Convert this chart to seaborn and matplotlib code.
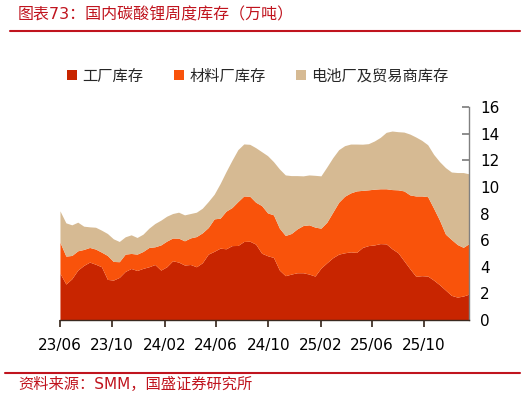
import numpy as np
import pandas as pd
import matplotlib
matplotlib.use('Agg')
import matplotlib.pyplot as plt
import matplotlib.dates as mdates
from matplotlib.lines import Line2D
import seaborn as sns

# weekly inventory (10k tonnes), roughly every 2 weeks
factory = [3.51, 2.70, 3.10, 3.75, 4.10, 4.35, 4.19, 4.00, 3.05, 3.00,
           3.20, 3.65, 3.87, 3.72, 3.88, 4.00, 4.17, 3.75, 4.00, 4.45,
           4.35, 4.13, 4.17, 4.00, 4.30, 4.95, 5.16, 5.40, 5.35, 5.59,
           5.60, 5.90, 5.92, 5.70, 5.02, 4.83, 4.70, 3.75, 3.33, 3.45,
           3.55, 3.55, 3.45, 3.30, 3.90, 4.30, 4.68, 4.95, 5.05, 5.12,
           5.08, 5.45, 5.59, 5.64, 5.74, 5.72, 5.35, 5.05, 4.45, 3.85,
           3.28, 3.33, 3.30, 3.00, 2.65, 2.25, 1.85, 1.72, 1.80, 1.95]
material = [2.33, 2.10, 1.75, 1.45, 1.20, 1.10, 1.14, 1.10, 1.80, 1.40,
            1.18, 1.30, 1.13, 1.23, 1.27, 1.45, 1.33, 1.89, 1.93, 1.71,
            1.80, 1.82, 2.00, 2.27, 2.25, 2.00, 2.44, 2.25, 2.83, 2.86,
            3.30, 3.42, 3.38, 3.15, 3.58, 3.22, 3.20, 3.15, 3.02, 3.05,
            3.30, 3.55, 3.70, 3.68, 3.00, 3.05, 3.42, 3.90, 4.25, 4.43,
            4.62, 4.29, 4.19, 4.19, 4.12, 4.14, 4.45, 4.73, 5.25, 5.55,
            6.04, 5.99, 5.97, 5.40, 4.85, 4.20, 4.20, 3.95, 3.66, 3.80]
battery = [2.36, 2.50, 2.30, 2.15, 1.75, 1.55, 1.64, 1.65, 1.65, 1.70,
           1.52, 1.30, 1.40, 1.25, 1.30, 1.45, 1.75, 1.86, 1.87, 1.84,
           1.95, 1.95, 1.83, 1.83, 1.85, 1.95, 1.85, 2.60, 2.97, 3.55,
           3.90, 3.91, 3.90, 4.10, 4.05, 4.30, 4.00, 4.45, 4.55, 4.35,
           4.00, 3.73, 3.75, 3.89, 3.93, 4.15, 4.10, 3.95, 3.80, 3.67,
           3.52, 3.47, 3.47, 3.62, 3.86, 4.24, 4.40, 4.37, 4.42, 4.57,
           4.43, 4.18, 3.90, 4.05, 4.40, 5.00, 5.07, 5.41, 5.62, 5.23]

labels = ['工厂库存', '材料厂库存', '电池厂及贸易商库存']
colors = ['#C82500', '#F9530B', '#D6BA93']
y_ticks = [0, 2, 4, 6, 8, 10, 12, 14, 16]

weeks = pd.date_range('2023-06-01', '2026-01-15', periods=len(factory))

sns.set_theme(style='white')
plt.rcParams['font.family'] = ['DejaVu Sans', 'Noto Sans CJK SC']

fig = plt.figure(figsize=(5.26, 3.98), dpi=100)
ax = fig.add_axes([0.114, 0.196, 0.778, 0.535])

ax.stackplot(weeks, factory, material, battery, colors=colors,
             labels=labels, linewidth=0)

ax.set_xlim(weeks[0], weeks[-1])
ax.set_ylim(0, 16)
ax.set_yticks(y_ticks)
ax.yaxis.tick_right()
ax.xaxis.set_major_locator(mdates.MonthLocator(bymonth=[2, 6, 10]))
ax.xaxis.set_major_formatter(mdates.DateFormatter('%y/%m'))

sns.despine(ax=ax, left=True, top=True, right=False, bottom=False)
ax.spines['right'].set_color('#808080')
ax.spines['bottom'].set_color('#3a2a20')
ax.spines['right'].set_linewidth(1)
ax.spines['bottom'].set_linewidth(1)
ax.tick_params(axis='y', direction='in', length=5, color='#808080',
               labelsize=11, pad=8, labelcolor='black', right=True, left=False)
ax.tick_params(axis='x', direction='out', length=5, color='#3a2a20',
               labelsize=11, pad=8, labelcolor='black', bottom=True)
ax.grid(False)

fig.legend(loc='center', bbox_to_anchor=(0.49, 0.809), ncol=3, frameon=False,
           fontsize=11, handlelength=0.65, handleheight=0.65,
           handletextpad=0.35, columnspacing=2.0)

# title, rules and source
fig.text(0.034, 0.963, '图表73：国内碳酸锂周度库存（万吨）', color='#C0141E',
         fontsize=11.5, va='center', ha='left')
fig.add_artist(Line2D([0.019, 0.989], [0.922, 0.922], color='#C0141E', lw=1.5))
fig.add_artist(Line2D([0.01, 0.989], [0.063, 0.063], color='#C0141E', lw=1.5))
fig.text(0.034, 0.035, '资料来源：SMM，国盛证券研究所', color='#C0141E',
         fontsize=11, va='center', ha='left')

fig.savefig('out.png', dpi=100)
